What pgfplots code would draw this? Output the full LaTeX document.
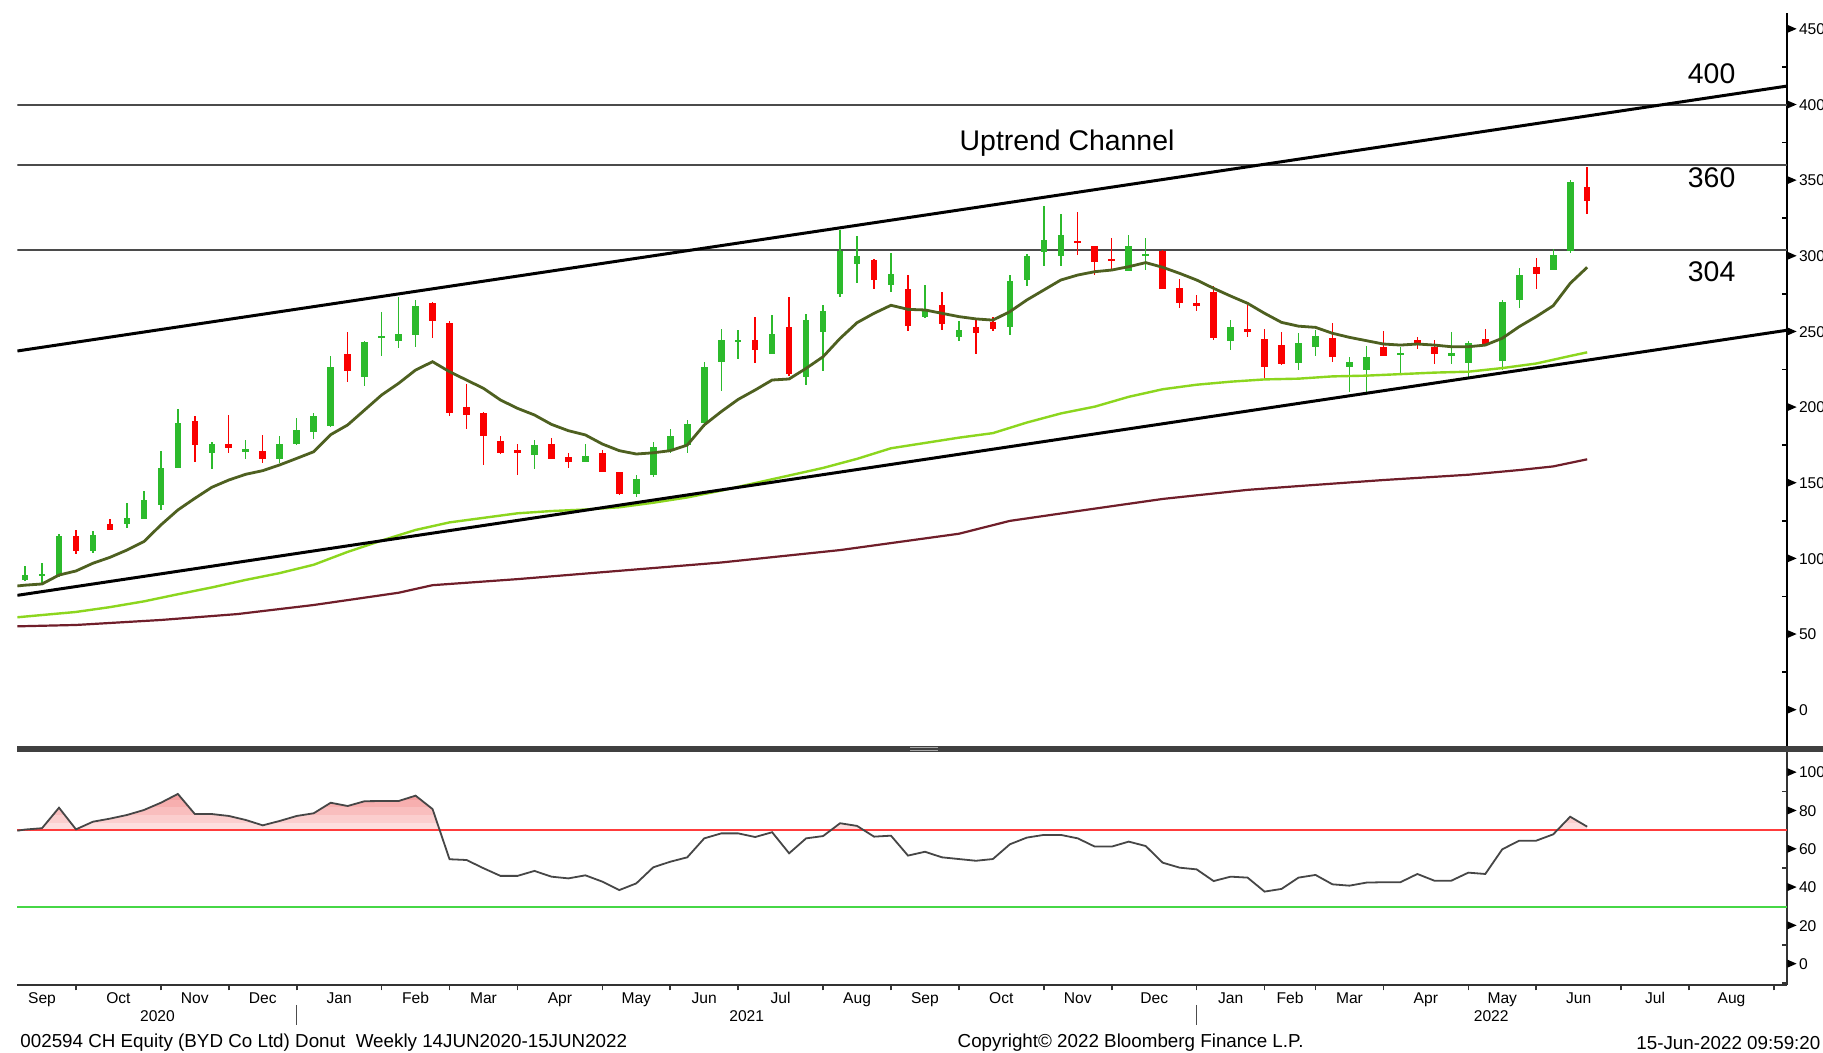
\documentclass[border=0pt]{standalone}
\usepackage{fontspec}
\setmainfont{Liberation Sans}
\usepackage{pgfplots}
\usepackage{pgfplotstable}
\pgfplotsset{compat=1.18}

\definecolor{cg}{RGB}{44,186,44}
\definecolor{cr}{RGB}{250,0,0}
\definecolor{maone}{RGB}{78,96,32}
\definecolor{matwo}{RGB}{140,214,30}
\definecolor{mathree}{RGB}{112,30,42}
\definecolor{hl}{RGB}{75,75,75}
\definecolor{rsil}{RGB}{70,70,70}
\definecolor{rseventy}{RGB}{255,60,60}
\definecolor{gthirty}{RGB}{70,215,70}
\definecolor{sepc}{RGB}{64,64,64}
\definecolor{pka}{RGB}{253,222,222}
\definecolor{pkb}{RGB}{251,206,206}
\definecolor{pkc}{RGB}{249,190,190}
\definecolor{pkd}{RGB}{247,175,175}
\definecolor{pke}{RGB}{245,160,160}

\newcommand{\tri}{\tikz[baseline=-0.69ex]\fill[black] (0,-2pt) -- (4.6pt,0pt) -- (0,2pt) -- cycle;\hspace{1.2pt}}

\pgfplotstableread{
i o h l c
0 86 95 85 89
1 89 97 84 90
2 89 116 88 115
4 105 118 104 115.5
6 123 137 120 127
7 126.5 145 126 138.5
8 135.5 171 132 160
9 160 199 160 190
11 170 177 159 175.6
13 171 178.5 166 172
15 166 181 163 175.6
16 176 193 175 185
17 183.5 196 179 194
18 188 234 187 227
20 220 244 214 243
21 246 263 234 247
22 244 273 239 248.5
23 248 271 240 267
30 168.5 178.5 159 175
33 164 176 164 168
36 142.5 155 141 153
37 155 177 154 174
38 171 185.5 169.6 181
39 175 192 170 189
40 190 230 187 227
41 230 252 211 244.5
42 243.5 251 232 244.5
44 235 261 235 248.5
46 220 262 215 258
47 249.6 268 224 264
48 275 317 273 303.6
49 295 313 282 300
51 281 302 276 288
53 259.5 281 259 265
55 246.7 257 244 251
58 253 287.5 248 283.5
59 284 301.5 280 300
60 303 333 293.5 310.6
61 300 328 293.5 314
65 290.4 314 290 307
66 300.5 312 291 301.5
71 244 258 238 253.4
75 229.6 249 225 242.5
76 240 251 234 247.4
78 226.5 233 210 230
79 224.7 240.6 210 233.5
81 235 240 222 236
84 234.5 250 229 235.5
85 229.6 244 220 242.8
87 230.7 271 224.7 270
88 271 292 265.5 287.5
90 291 305 291 301
91 303.6 350 302 349
}\upcandles

\pgfplotstableread{
i o h l c
3 115 119 103 105
5 123 126 119 119
10 191 194 164 175
12 176 195 170 173
14 171.5 182 163 166
19 235 250 217 224
24 269 269.5 246 257
25 256 257 194 196
26 200.5 215.5 186 195
27 196 197 162 181
28 178 181 169 170
29 172 176 155 170
31 176 179.5 166 166
32 167 170 160 164
34 170 172 157 157
35 157 157 142 142.5
43 244.5 259.5 229.6 238
45 253 273 221 222
50 297.5 298 278 284
52 278 287.5 250.7 254
54 268 276 251 255
56 253 258 235 249
57 256.7 260 250.7 252
62 310 329 301 308.5
63 307 307 287.5 296
64 298 312 291 297
67 303.6 304 278 278
68 279 285 265.5 269
69 269 274 264 267
70 276 280 244.5 245.6
72 252 268 246.7 249.6
73 245 252 219 226.5
74 241 250 228 229
77 246 256 230 233.5
80 239.7 250.5 234 234
82 244.5 246.7 238.6 242.3
83 240 244.5 229 235
86 245 252 241 241
89 292.6 298.5 278 288
92 346 359 328 336.6
}\downcandles

\pgfplotstableread{
i r
-0.45 69.6
0 70.2
1 70.9
2 81.6
3 70.3
4 74.3
5 75.9
6 77.8
7 80.4
8 84.2
9 88.8
10 78.3
11 78.3
12 77.3
13 75.2
14 72.4
15 74.7
16 77.3
17 78.7
18 84.2
19 82.5
20 85.0
21 85.1
22 85.1
23 87.9
24 80.9
25 54.7
26 54.3
27 50.0
28 46.0
29 46.0
30 48.6
31 45.6
32 44.7
33 46.3
34 43.0
35 38.6
36 42.1
37 50.5
38 53.4
39 55.7
40 65.6
41 68.2
42 68.2
43 66.3
44 68.8
45 57.8
46 65.6
47 66.8
48 73.5
49 72.1
50 66.5
51 67.0
52 56.6
53 58.6
54 55.7
55 54.8
56 53.9
57 54.8
58 62.5
59 66.0
60 67.4
61 67.4
62 65.6
63 61.3
64 61.3
65 63.9
66 61.6
67 52.9
68 50.3
69 49.4
70 43.3
71 45.6
72 45.1
73 37.8
74 39.2
75 45.1
76 46.5
77 41.6
78 40.9
79 42.5
80 42.7
81 42.7
82 47.0
83 43.5
84 43.5
85 47.7
86 47.0
87 59.9
88 64.4
89 64.4
90 67.7
91 76.9
92 71.7
}\rsitab

\begin{document}
\begin{tikzpicture}
\useasboundingbox (0,0) rectangle (911.5pt,526.5pt);
\fill[white] (0,0) rectangle (911.5pt,526.5pt);

% ---------------- price panel ----------------
\begin{axis}[
  at={(8.7pt,153pt)}, anchor=south west,
  width=884.8pt, height=367pt, scale only axis,
  xmin=-0.45, xmax=103.77, ymin=-24.45, ymax=460.7,
  axis x line=none, axis y line*=right,
  axis line style={-, black, line width=1pt},
  ytick={0,50,100,150,200,250,300,350,400,450},
  yticklabels={{\tri0},{\tri50},{\tri100},{\tri150},{\tri200},{\tri250},{\tri300},{\tri350},{\tri400},{\tri450}},
  minor ytick={25,75,125,175,225,275,325,375,425},
  major tick length=0pt, minor tick length=2.7pt,
  tick align=inside,
  tick style={black, line width=0.8pt},
  yticklabel style={anchor=west, inner sep=0pt, font=\fontsize{7.8}{9}\selectfont},
]
% horizontal levels
\addplot[hl, line width=0.9pt] coordinates {(-0.45,400) (103.77,400)};
\addplot[hl, line width=0.9pt] coordinates {(-0.45,360) (103.77,360)};
\addplot[hl, line width=0.9pt] coordinates {(-0.45,304) (103.77,304)};

% candles: wicks
\addplot[draw=none, mark=none, forget plot,
  error bars/.cd, y dir=both, y explicit, error mark=none,
  error bar style={draw=cg, line width=0.7pt}]
  table[x=i, y expr={(\thisrow{h}+\thisrow{l})/2}, y error expr={(\thisrow{h}-\thisrow{l})/2}] {\upcandles};
\addplot[draw=none, mark=none, forget plot,
  error bars/.cd, y dir=both, y explicit, error mark=none,
  error bar style={draw=cr, line width=0.7pt}]
  table[x=i, y expr={(\thisrow{h}+\thisrow{l})/2}, y error expr={(\thisrow{h}-\thisrow{l})/2}] {\downcandles};
% candles: bodies
\addplot[draw=none, mark=none, forget plot,
  error bars/.cd, y dir=both, y explicit, error mark=none,
  error bar style={draw=cg, line width=3.3pt}]
  table[x=i, y expr={(\thisrow{o}+\thisrow{c})/2}, y error expr={max(abs(\thisrow{c}-\thisrow{o})/2,0.7)}] {\upcandles};
\addplot[draw=none, mark=none, forget plot,
  error bars/.cd, y dir=both, y explicit, error mark=none,
  error bar style={draw=cr, line width=3.3pt}]
  table[x=i, y expr={(\thisrow{o}+\thisrow{c})/2}, y error expr={max(abs(\thisrow{c}-\thisrow{o})/2,0.7)}] {\downcandles};

% long moving average (maroon)
\addplot[mathree, line width=1.1pt] table[x=i, y=v] {
i v
-0.45 55.3
3 56.2
8 59.5
12.5 63.4
17 69.4
22 77.5
24 82.5
29 86.5
35 92
41 97.5
48 105.7
55 116.5
58 125
62 131.5
67 139.5
72 145.5
75 148
80 152
85 155.5
88 158.6
90 161
92 165.7
};
% medium moving average (light green)
\addplot[matwo, line width=1.2pt] table[x=i, y=v] {
i v
-0.45 61.3
3 64.8
5 68
7 71.8
9 76.5
11 81
13 86
15 90.5
17 96
19 104.5
21 112
23 119
25 124
27 127
29 130
31 131.5
33 132.5
35 134
37 137
39 140.5
41 145
43 150
45 155
47 160
49 166
51 173
53 176.5
55 180
57 183
59 190
61 196
63 200.5
65 207
67 212
69 215
71 217
73 218.5
75 219
77 220.5
79 221
81 222
83 223
85 223.6
87 226
89 229
91 234
92 236.4
};
% short moving average (dark olive)
\addplot[maone, line width=1.4pt] table[x=i, y=v] {
i v
-0.45 82.0
0 82.5
1 83.3
2 89.2
3 91.9
4 97
5 100.9
6 105.7
7 111.3
8 122.3
9 132.2
10 139.9
11 147.2
12 152
13 155.8
14 158.2
15 162
16 166.3
17 170.7
18 182
19 188.4
20 198.3
21 208.2
22 215.9
23 224.7
24 230.2
25 223.6
26 218.1
27 212.6
28 204.9
29 199.4
30 195
31 188.8
32 184.6
33 181.8
34 175.8
35 171.4
36 169.2
37 170
38 171.4
39 175.1
40 188.4
41 197.2
42 205.3
43 211.5
44 218.1
45 218.8
46 225.8
47 233.5
48 245.6
49 256
50 262.2
51 267.5
52 264.8
53 264.4
54 262.2
55 260
56 258.5
57 257.7
58 263.3
59 271
60 277.6
61 284.2
62 287.5
63 289.7
64 290.8
65 293
66 295.7
67 292.6
68 288.6
69 284.2
70 278.7
71 273.6
72 268.8
73 262.2
74 256.2
75 253.7
76 252.9
77 249
78 246.3
79 244.1
80 241.9
81 241.2
82 241.9
83 241.2
84 240.1
85 240.1
86 241.2
87 245.7
88 253.4
89 260
90 267.2
91 282
92 292.6
};
% channel lines
\addplot[black, line width=1.5pt] coordinates {(-0.45,237.3) (103.77,412.4)};
\addplot[black, line width=1.5pt] coordinates {(-0.45,75.8) (103.77,251)};

\node[font=\fontsize{14.2}{16}\selectfont] at (axis cs:99.33,420.4) {400};
\node[font=\fontsize{14.2}{16}\selectfont] at (axis cs:99.33,351.8) {360};
\node[font=\fontsize{14.2}{16}\selectfont] at (axis cs:99.33,289.7) {304};
\node[font=\fontsize{14.2}{16}\selectfont] at (axis cs:61.37,374.8) {Uptrend Channel};
\end{axis}

% ---------------- RSI panel ----------------
\begin{axis}[
  at={(8.7pt,34pt)}, anchor=south west,
  width=884.8pt, height=116.5pt, scale only axis,
  xmin=-0.45, xmax=103.77, ymin=-10.97, ymax=110.7,
  axis x line*=bottom, axis y line*=right,
  axis line style={-, black!80, line width=1.1pt},
  clip=false,
  xtick={1,5.5,10,14,18.5,23,27,31.5,36,40,44.5,49,53,57.5,62,66.5,71,74.5,78,82.5,87,91.5,96,100.5},
  xticklabels={Sep,Oct,Nov,Dec,Jan,Feb,Mar,Apr,May,Jun,Jul,Aug,Sep,Oct,Nov,Dec,Jan,Feb,Mar,Apr,May,Jun,Jul,Aug},
  minor xtick={3,8,12,16,21,25,29,34,38,42,47,51,55,60,64,69,73,76,80,85,89,94,98,103},
  ytick={0,20,40,60,80,100},
  yticklabels={{\tri0},{\tri20},{\tri40},{\tri60},{\tri80},{\tri100}},
  minor ytick={-10,10,30,50,70,90},
  major tick length=0pt, minor tick length=2.7pt,
  xtick align=outside, ytick align=inside,
  tick style={black!80, line width=0.8pt},
  yticklabel style={anchor=west, inner sep=0pt, font=\fontsize{7.8}{9}\selectfont},
  xticklabel style={anchor=base, inner sep=0pt, yshift=-9.3pt, font=\fontsize{7.8}{9}\selectfont},
]
% overbought shading, in bands above 70
\begin{scope}
\clip (axis cs:-0.45,70) rectangle (axis cs:103.77,115);
\addplot[draw=none, fill=pka, forget plot] table[x=i, y=r] {\rsitab} \closedcycle;
\end{scope}
\begin{scope}
\clip (axis cs:-0.45,74) rectangle (axis cs:103.77,115);
\addplot[draw=none, fill=pkb, forget plot] table[x=i, y=r] {\rsitab} \closedcycle;
\end{scope}
\begin{scope}
\clip (axis cs:-0.45,78) rectangle (axis cs:103.77,115);
\addplot[draw=none, fill=pkc, forget plot] table[x=i, y=r] {\rsitab} \closedcycle;
\end{scope}
\begin{scope}
\clip (axis cs:-0.45,82) rectangle (axis cs:103.77,115);
\addplot[draw=none, fill=pkd, forget plot] table[x=i, y=r] {\rsitab} \closedcycle;
\end{scope}
\begin{scope}
\clip (axis cs:-0.45,86) rectangle (axis cs:103.77,115);
\addplot[draw=none, fill=pke, forget plot] table[x=i, y=r] {\rsitab} \closedcycle;
\end{scope}
\addplot[rseventy, line width=1pt] coordinates {(-0.45,70) (103.77,70)};
\addplot[gthirty, line width=1pt] coordinates {(-0.45,30) (103.77,30)};
\addplot[rsil, line width=0.9pt] table[x=i, y=r] {\rsitab};

\node[anchor=base, font=\fontsize{7.8}{9}\selectfont] at ([yshift=-18.5pt]axis cs:7.8,-10.97) {2020};
\node[anchor=base, font=\fontsize{7.8}{9}\selectfont] at ([yshift=-18.5pt]axis cs:42.5,-10.97) {2021};
\node[anchor=base, font=\fontsize{7.8}{9}\selectfont] at ([yshift=-18.5pt]axis cs:86.35,-10.97) {2022};
\draw[black!70, line width=0.7pt] ([yshift=-10pt]axis cs:16,-10.97) -- ([yshift=-20pt]axis cs:16,-10.97);
\draw[black!70, line width=0.7pt] ([yshift=-10pt]axis cs:69,-10.97) -- ([yshift=-20pt]axis cs:69,-10.97);
\end{axis}

% panel separator
\fill[sepc] (8.7pt,150.5pt) rectangle (911.5pt,153.5pt);
\draw[black!35, line width=0.4pt] (455pt,152.6pt) -- (469pt,152.6pt);
\draw[black!35, line width=0.4pt] (455pt,151.4pt) -- (469pt,151.4pt);

% footer
\node[anchor=west, inner sep=0pt, font=\fontsize{9.4}{11}\selectfont] at (10pt,5.1pt) {002594 CH Equity (BYD Co Ltd) Donut\ \ Weekly 14JUN2020-15JUN2022};
\node[inner sep=0pt, font=\fontsize{9.4}{11}\selectfont] at (565.3pt,5.1pt) {Copyright© 2022 Bloomberg Finance L.P.};
\node[anchor=west, inner sep=0pt, font=\fontsize{9.4}{11}\selectfont] at (818pt,5.1pt) {15-Jun-2022 09:59:20};
\end{tikzpicture}
\end{document}
